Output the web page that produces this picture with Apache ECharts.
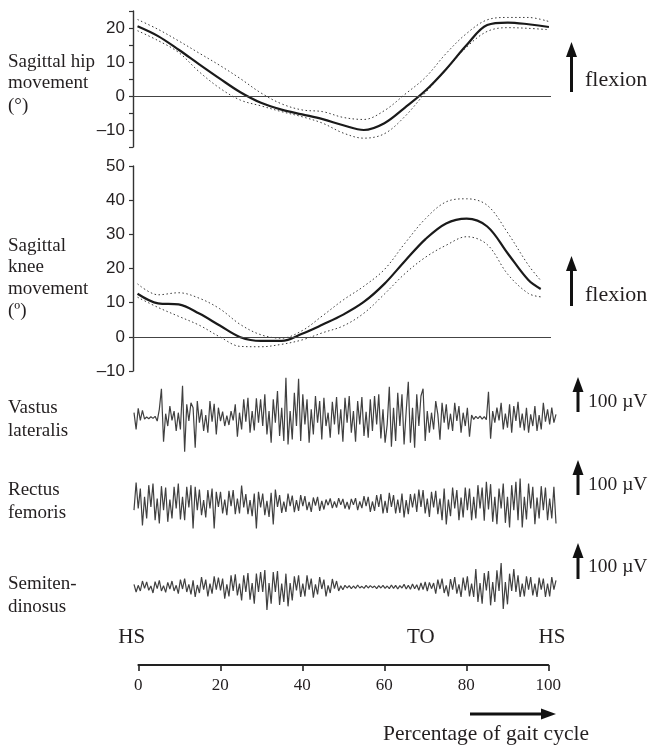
<!DOCTYPE html>
<html>
<head>
<meta charset="utf-8">
<script src="https://cdn.jsdelivr.net/npm/echarts/dist/echarts.min.js"></script>
<style>html,body{margin:0;padding:0;background:#fff}#c{width:650px;height:746px}</style>
</head>
<body>
<div id="c"></div>
<script>
// ---- kinematics (% gait cycle vs degrees) ----
const hipPct = [0,5,10,15,20,25,30,35,40,45,50,55,60,65,70,75,80,85,90,95,100];
const hipMean  = [20.5,17.6,13.6,9.3,5.1,1.1,-2.0,-4.0,-5.4,-6.8,-8.6,-10.0,-8.0,-3.4,1.6,7.9,15.0,20.9,21.6,21.1,20.3];
const hipUpper = [22.5,19.6,16.2,12.6,9.0,5.1,0.9,-2.3,-4.1,-4.6,-6.3,-6.9,-4.3,0.5,5.5,12.5,18.4,22.4,23.1,23.1,21.9];
const hipLower = [19.2,16.3,12.8,7.1,2.3,-1.2,-2.9,-4.6,-6.1,-8.0,-10.9,-12.4,-11.1,-6.0,1.0,7.7,14.4,19.0,20.1,19.9,19.5];

const kneePct = [0,5,10,15,20,25,30,35,40,45,50,55,60,65,70,75,80,85,90,95,98];
const kneeMean  = [12.6,9.8,9.5,6.8,3.3,-0.1,-1.2,-1.2,0.9,3.6,6.5,10.2,15.5,22.2,28.6,33.2,34.6,32.3,24.4,16.6,14.0];
const kneeUpper = [15.5,12.3,12.9,11.3,8.2,3.6,0.6,-0.4,1.8,6.2,10.8,14.8,19.7,27.4,34.6,39.5,40.4,38.5,30.4,21.0,16.5];
const kneeLower = [11.6,8.6,6.0,3.4,0.0,-2.8,-2.9,-2.2,-0.9,1.2,3.2,6.9,12.5,18.5,23.3,26.8,29.3,27.0,18.3,12.7,11.7];

// ---- EMG (µV), one sample every 0.5 % of the cycle ----
const emgStep = 0.5;
const vastus = [
 15,-35,28,-8,22,-4,2,-3,3,-2,4,-10,25,87,-72,12,-25,35,-8,20,
 -40,15,-35,96,-102,40,-10,45,30,-90,50,-15,25,-40,8,-45,50,-12,42,-50,
 30,-10,18,-25,6,-22,20,-8,40,-57,15,-35,55,-12,60,-45,20,-38,58,-15,
 55,-25,70,-50,20,-75,55,-15,80,-55,30,-70,120,-80,20,-65,75,-25,117,-70,
 70,-20,55,-75,25,-50,65,-15,50,-65,60,-25,15,-60,48,-20,62,-50,25,-72,
 60,-15,65,-45,20,-72,50,-20,62,-55,18,-60,55,-40,65,-20,70,-62,25,-75,
 -20,93,-87,30,-70,75,-25,70,-80,20,108,-75,30,-90,70,-25,65,87,-70,20,
 -45,15,-35,50,10,-66,45,-15,40,-35,12,-40,45,-10,35,-45,15,-25,30,-57,
 8,-5,4,-3,5,-4,3,-6,78,-63,20,-15,30,-8,45,-35,12,-30,40,-45,
 35,-10,48,-30,12,-38,30,-45,10,-25,35,-40,8,-35,45,-12,25,-20,30,-15,10
];
const rectus = [
 -20,63,-15,45,-66,20,-45,55,-10,60,-50,15,-60,52,-20,48,-55,12,-45,50,
 -15,60,-48,20,-50,50,-12,55,-75,50,-20,42,-35,10,-42,40,-15,45,-75,35,
 -10,35,-30,12,-35,38,-8,40,-32,15,-30,54,-12,28,-32,10,-38,30,-75,35,
 -12,30,-35,8,-40,32,-63,42,-10,25,-28,6,-25,30,-8,24,-26,10,-22,25,
 -8,22,-20,5,-25,18,-6,20,-22,8,-18,12,-5,15,-14,6,-12,16,-4,14,
 -15,5,-18,14,-4,16,-20,6,-14,22,-8,20,-25,6,-22,25,-10,28,-30,8,
 -28,32,-10,25,-30,12,-28,30,-42,10,-32,28,-12,30,-25,42,-10,40,-30,15,
 -40,35,-12,38,-32,15,-50,45,-63,12,-38,48,-15,40,-50,18,-42,48,-20,45,
 -50,20,-45,55,-15,48,-52,65,-18,58,-55,20,-62,45,-15,60,-58,20,-72,55,
 -20,65,-50,75,-72,20,-48,60,-15,50,-62,18,-45,52,-20,48,-50,15,-45,50,-60
];
const semitendinosus = [
 8,-15,5,-12,18,-4,15,-10,3,-18,16,-5,20,-12,4,-16,14,-6,18,-12,
 5,-20,22,-6,25,-15,8,-22,20,-30,6,-18,30,-8,22,-28,10,-20,32,-8,
 28,-10,25,-35,8,-28,35,-12,38,-25,10,-40,35,-15,42,-38,12,-50,40,-15,
 45,-15,51,-69,12,-50,45,-15,48,-54,10,-45,40,-58,12,-40,32,-10,35,-30,
 10,-28,35,-8,25,-32,8,-22,30,-6,22,-28,5,-18,24,-5,18,-12,4,-8,
 5,-3,4,-5,3,-4,6,-3,2,-4,5,-3,4,-2,3,-5,4,-3,5,-4,
 3,-5,6,-4,5,-6,4,-3,8,-6,5,-7,9,-5,7,-10,12,-8,15,-12,
 14,-5,12,-20,22,-6,25,-18,5,-28,24,-8,30,-20,8,-30,28,-10,32,-28,
 10,-30,54,-45,12,-50,42,-10,48,-55,15,-45,50,-12,72,-66,15,-52,40,-12,
 54,-15,35,-30,10,-28,32,-8,30,-25,10,-30,28,-8,25,-30,10,-28,30,-8,20
];

// ---- axis ticks / labels ----
const gaitTicks = [0,20,40,60,80,100];
const eventLabels = ['HS','TO','HS'];
const eventPct = [-1.6, 68.9, 100.9];

const SERIF = '"Liberation Serif","Times New Roman",serif';
const SANS = '"Liberation Sans",Arial,sans-serif';
const INK = '#231f20';

const pair = (xs, ys) => xs.map((x, i) => [x, ys[i]]);
const emgPairs = arr => arr.map((v, i) => [i * emgStep, v]);

const chart = echarts.init(document.getElementById('c'), null, {renderer: 'canvas'});

const kinX = {type: 'value', min: -1.1, max: 100.5, show: false};
const emgX = {type: 'value', min: 0, max: 100, show: false};
const emgY = {type: 'value', min: -150, max: 150, show: false};

function yAx(min, max, interval, every) {
  return {
    type: 'value', min, max, interval,
    axisLine: {show: true, onZero: false, lineStyle: {color: '#333', width: 1.4}},
    axisTick: {show: true, length: 4, lineStyle: {color: '#333', width: 1.2}},
    splitLine: {show: false},
    axisLabel: {
      margin: 8, color: INK, fontFamily: SANS, fontSize: 17,
      formatter: v => (Math.round(v) % every === 0 ? (v < 0 ? '\u2013' + Math.abs(v) : String(v)) : '')
    }
  };
}

const meanStyle = {color: '#1a1a1a', width: 2.2};
const bandStyle = {color: '#3a3a3a', width: 1, type: [1.5, 2.5]};
const zeroLine = {
  silent: true, symbol: 'none', label: {show: false},
  lineStyle: {color: '#444', width: 1.2, type: 'solid'},
  data: [{yAxis: 0}]
};

function kin(name, xs, ys, axis, style, withZero) {
  const s = {
    name, type: 'line', xAxisIndex: axis, yAxisIndex: axis,
    data: pair(xs, ys), smooth: 0.35, showSymbol: false, symbol: 'none',
    lineStyle: style, z: style === meanStyle ? 3 : 2
  };
  if (withZero) s.markLine = zeroLine;
  return s;
}
function emg(name, arr, axis) {
  return {
    name, type: 'line', xAxisIndex: axis, yAxisIndex: axis,
    data: emgPairs(arr), showSymbol: false, symbol: 'none', sampling: null,
    lineStyle: {color: '#404040', width: 1.2}
  };
}

function txt(text, x, y, size, align) {
  return {type: 'text', style: {text, x, y, font: size + 'px ' + SERIF, fill: INK,
    align: align || 'left', verticalAlign: 'middle'}};
}
function upArrow(x, yTip, yTail) {
  return {type: 'group', children: [
    {type: 'rect', shape: {x: x - 1.5, y: yTip + 10, width: 3, height: yTail - yTip - 10}, style: {fill: '#111'}},
    {type: 'polygon', shape: {points: [[x, yTip], [x - 5.5, yTip + 15], [x + 5.5, yTip + 15]]}, style: {fill: '#111'}}
  ]};
}

const graphics = [
  txt('Sagittal hip', 8, 62, 19), txt('movement', 8, 83, 19), txt('(\u00b0)', 8, 106, 19),
  txt('Sagittal', 8, 246, 19), txt('knee', 8, 267, 19), txt('movement', 8, 289, 19), txt('(\u00ba)', 8, 311, 19),
  txt('Vastus', 8, 408, 19), txt('lateralis', 8, 431, 19),
  txt('Rectus', 8, 490, 19), txt('femoris', 8, 513, 19),
  txt('Semiten-', 8, 584, 19), txt('dinosus', 8, 607, 19),
  upArrow(571.5, 42, 92), txt('flexion', 585, 80, 22),
  upArrow(571.5, 256, 306), txt('flexion', 585, 295, 22),
  upArrow(578, 377, 412), txt('100 \u00b5V', 588, 402, 19.5),
  upArrow(578, 460, 495), txt('100 \u00b5V', 588, 485, 19.5),
  upArrow(578, 543, 579), txt('100 \u00b5V', 588, 567, 19.5),
  txt('Percentage of gait cycle', 486, 734, 21.5, 'center'),
  {type: 'group', children: [
    {type: 'rect', shape: {x: 470, y: 712.5, width: 75, height: 3}, style: {fill: '#111'}},
    {type: 'polygon', shape: {points: [[556, 714], [541, 708.5], [541, 719.5]]}, style: {fill: '#111'}}
  ]}
];
// event labels placed through the gait axis scale
const gx0 = 138.3, gW = 410;
eventLabels.forEach((t, i) => graphics.push(txt(t, gx0 + gW * eventPct[i] / 100, 637, 21, 'center')));

const option = {
  backgroundColor: '#fff',
  animation: false,
  grid: [
    {left: 133, width: 418, top: 11, height: 136},
    {left: 133, width: 418, top: 166, height: 205},
    {left: 134, width: 422, top: 367.7, height: 100},
    {left: 134, width: 422, top: 453.5, height: 100},
    {left: 134, width: 422, top: 537, height: 100},
    {left: gx0, width: gW, top: 600, height: 65}
  ],
  xAxis: [
    Object.assign({gridIndex: 0}, kinX),
    Object.assign({gridIndex: 1}, kinX),
    Object.assign({gridIndex: 2}, emgX),
    Object.assign({gridIndex: 3}, emgX),
    Object.assign({gridIndex: 4}, emgX),
    {gridIndex: 5, type: 'value', min: 0, max: 100, interval: 20, position: 'bottom',
     axisLine: {show: true, onZero: false, lineStyle: {color: '#222', width: 1.8}},
     axisTick: {show: true, length: 6, lineStyle: {color: '#222', width: 1.6}},
     splitLine: {show: false},
     axisLabel: {margin: 12, color: INK, fontFamily: SERIF, fontSize: 17,
       customValues: gaitTicks, formatter: v => String(v)}}
  ],
  yAxis: [
    Object.assign({gridIndex: 0}, yAx(-15, 25, 5, 10)),
    Object.assign({gridIndex: 1}, yAx(-10, 50, 10, 10)),
    Object.assign({gridIndex: 2}, emgY),
    Object.assign({gridIndex: 3}, emgY),
    Object.assign({gridIndex: 4}, emgY),
    {gridIndex: 5, type: 'value', min: 0, max: 1, show: false}
  ],
  series: [
    kin('Hip upper', hipPct, hipUpper, 0, bandStyle, false),
    kin('Hip lower', hipPct, hipLower, 0, bandStyle, false),
    kin('Hip mean', hipPct, hipMean, 0, meanStyle, true),
    kin('Knee upper', kneePct, kneeUpper, 1, bandStyle, false),
    kin('Knee lower', kneePct, kneeLower, 1, bandStyle, false),
    kin('Knee mean', kneePct, kneeMean, 1, meanStyle, true),
    emg('Vastus lateralis', vastus, 2),
    emg('Rectus femoris', rectus, 3),
    emg('Semitendinosus', semitendinosus, 4),
    {type: 'line', xAxisIndex: 5, yAxisIndex: 5, data: [], silent: true}
  ],
  graphic: graphics
};
chart.setOption(option);
</script>
</body>
</html>
